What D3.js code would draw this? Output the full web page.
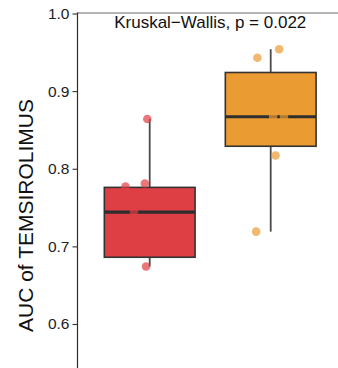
<!DOCTYPE html>
<html>
<head>
<meta charset="utf-8">
<script src="https://cdn.jsdelivr.net/npm/d3@7"></script>
<style>
  html, body { margin: 0; padding: 0; background: #fff; }
  svg { display: block; font-family: "Liberation Sans", Arial, sans-serif; }
</style>
</head>
<body>
<svg id="chart" width="338" height="368"></svg>
<script>
// Groups and box statistics (AUC of temsirolimus)
const groups = ["Low", "High"];
const q1 = [0.686, 0.829];
const medians = [0.744, 0.867];
const q3 = [0.776, 0.924];
const whiskerLow = [0.674, 0.719];
const whiskerHigh = [0.864, 0.954];
const fills = ["#DE3F45", "#EA9B32"];

// Individual samples: group index, AUC value, horizontal jitter (fraction of step)
const pointGroup = [0, 0, 0, 0, 0, 1, 1, 1, 1, 1, 1];
const pointValue = [0.864, 0.781, 0.777, 0.745, 0.674, 0.954, 0.943, 0.867, 0.867, 0.817, 0.719];
const pointJitter = [-0.02, -0.04, -0.20, -0.13, -0.03, 0.07, -0.11, 0.02, 0.11, 0.04, -0.12];

const yTicks = [0.6, 0.7, 0.8, 0.9, 1.0];
const pLabel = "Kruskal\u2212Wallis, p = 0.022";
const yTitle = "AUC of TEMSIROLIMUS";

const svg = d3.select("#chart");
const W = 338, H = 368;
const axisX = 77.5, topY = 13.5;

const x = d3.scalePoint().domain(groups).range([149.7, 270.7]);
const step = x.step();
const y = d3.scaleLinear().domain([0.6, 1.0]).range([324, topY]);
const boxHalf = step * 0.375;

// top panel border
svg.append("line")
  .attr("x1", axisX).attr("x2", W)
  .attr("y1", topY - 0.5).attr("y2", topY - 0.5)
  .attr("stroke", "#6b6b6b").attr("stroke-width", 1.2);

// y axis
const yAxis = d3.axisLeft(y).tickValues(yTicks).tickFormat(d3.format(".1f")).tickSize(5).tickPadding(3);
const gy = svg.append("g").attr("transform", `translate(${axisX},0)`).call(yAxis);
gy.select(".domain").remove();
gy.selectAll(".tick line").attr("stroke", "#333").attr("stroke-width", 1.1);
gy.selectAll(".tick text").attr("font-size", 15.5).attr("fill", "#222")
  .attr("font-family", "Liberation Sans, Arial, sans-serif");
svg.append("line")
  .attr("x1", axisX).attr("x2", axisX)
  .attr("y1", topY - 1).attr("y2", H)
  .attr("stroke", "#3a2a24").attr("stroke-width", 1.2);

// y title
svg.append("text")
  .attr("transform", `translate(33,${(98 + 333) / 2}) rotate(-90)`)
  .attr("text-anchor", "middle")
  .attr("font-size", 21)
  .attr("fill", "#111")
  .text(yTitle);

// boxes
const boxes = svg.append("g");
groups.forEach((g, i) => {
  const cx = x(g);
  boxes.append("line")
    .attr("x1", cx).attr("x2", cx)
    .attr("y1", y(whiskerHigh[i])).attr("y2", y(whiskerLow[i]))
    .attr("stroke", "#4a4a4a").attr("stroke-width", 1.8);
  boxes.append("rect")
    .attr("x", cx - boxHalf).attr("width", boxHalf * 2)
    .attr("y", y(q3[i])).attr("height", y(q1[i]) - y(q3[i]))
    .attr("fill", fills[i]).attr("stroke", "#333").attr("stroke-width", 1.6);
  boxes.append("line")
    .attr("x1", cx - boxHalf).attr("x2", cx + boxHalf)
    .attr("y1", y(medians[i])).attr("y2", y(medians[i]))
    .attr("stroke", "#2e2e2e").attr("stroke-width", 3.2);
});

// jittered samples
svg.append("g").selectAll("circle")
  .data(pointValue.map((v, k) => ({ v, g: pointGroup[k], j: pointJitter[k] })))
  .join("circle")
  .attr("cx", d => x(groups[d.g]) + d.j * step)
  .attr("cy", d => y(d.v))
  .attr("r", 4.3)
  .attr("fill", d => fills[d.g])
  .attr("fill-opacity", 0.7);

// test label
svg.append("text")
  .attr("x", (axisX + 343) / 2).attr("y", 28)
  .attr("text-anchor", "middle")
  .attr("font-size", 17)
  .attr("fill", "#111")
  .text(pLabel);
</script>
</body>
</html>
